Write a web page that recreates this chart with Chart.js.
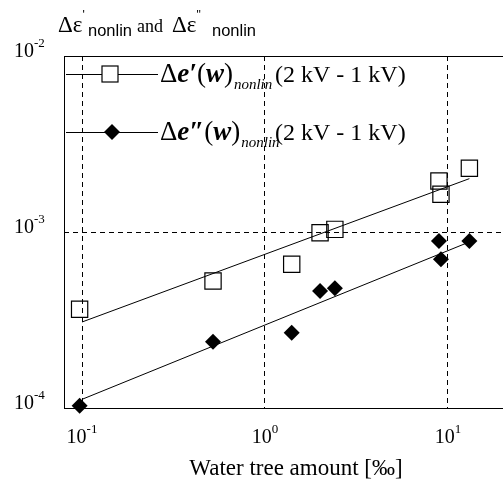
<!DOCTYPE html>
<html>
<head>
<meta charset="utf-8">
<script src="https://cdn.jsdelivr.net/npm/chart.js@4/dist/chart.umd.min.js"></script>
<style>
  body { margin: 0; background: #fff; }
  canvas { display: block; }
</style>
</head>
<body>
<canvas id="treeChart" width="503" height="484"></canvas>
<script>
// Water tree amount [‰] for each sample (same x for both series)
const waterTree = [0.097, 0.52, 1.40, 2.0, 2.41, 8.93, 9.16, 13.1];
// Δε'nonlin (open squares) and Δε"nonlin (filled diamonds)
const epsReal = [3.64e-4, 5.27e-4, 6.55e-4, 0.99e-3, 1.035e-3, 1.95e-3, 1.64e-3, 2.3e-3];
const epsImag = [1.03e-4, 2.38e-4, 2.68e-4, 4.62e-4, 4.79e-4, 8.89e-4, 7.0e-4, 8.9e-4];
// fitted power-law lines (end points)
const fitX = [0.1, 13.1];
const fitReal = [3.08e-4, 2.01e-3];
const fitImag = [1.12e-4, 8.78e-4];
// decade ticks
const xTicks = [0.1, 1, 10];
const xTickExp = ['-1', '0', '1'];
const yTicks = [1e-4, 1e-3, 1e-2];
const yTickExp = ['-4', '-3', '-2'];

const SERIF = '"Liberation Serif", "Times New Roman", serif';
const SANS = '"Liberation Sans", Arial, sans-serif';

function pts(xs, ys) {
    return xs.map((x, i) => ({ x: x, y: ys[i] }));
}

// draw a list of text runs one after another
function drawRuns(ctx, x, baseline, runs) {
    runs.forEach((r) => {
        ctx.font = r.font;
        if (r.x !== undefined) x = r.x;
        ctx.fillText(r.text, x, baseline + (r.dy || 0));
        x += ctx.measureText(r.text).width + (r.gap || 0);
    });
}

const decorPlugin = {
    id: 'decor',
    afterDraw(chart) {
        const ctx = chart.ctx;
        const area = chart.chartArea;
        const xs = chart.scales.x;
        const ys = chart.scales.y;
        ctx.save();
        ctx.fillStyle = '#000';
        ctx.strokeStyle = '#000';
        ctx.textBaseline = 'alphabetic';

        // frame: top, left, bottom
        ctx.lineWidth = 1;
        ctx.beginPath();
        ctx.moveTo(503, area.top + 0.5);
        ctx.lineTo(area.left + 0.5, area.top + 0.5);
        ctx.lineTo(area.left + 0.5, area.bottom + 0.5);
        ctx.lineTo(503, area.bottom + 0.5);
        ctx.stroke();

        // y tick labels
        yTicks.forEach((v, i) => {
            const y = ys.getPixelForValue(v);
            ctx.textAlign = 'left';
            ctx.font = '20px ' + SERIF;
            ctx.fillText('10', 14, y + 1);
            ctx.font = '13px ' + SERIF;
            ctx.fillText(yTickExp[i], 34, y - 9);
        });

        // x tick labels
        xTicks.forEach((v, i) => {
            const x = xs.getPixelForValue(v);
            ctx.font = '20px ' + SERIF;
            const w1 = ctx.measureText('10').width;
            ctx.font = '13px ' + SERIF;
            const w2 = ctx.measureText(xTickExp[i]).width;
            const x0 = x - (w1 + w2) / 2;
            ctx.textAlign = 'left';
            ctx.font = '20px ' + SERIF;
            ctx.fillText('10', x0, 443);
            ctx.font = '13px ' + SERIF;
            ctx.fillText(xTickExp[i], x0 + w1, 433);
        });

        // x axis title
        ctx.textAlign = 'center';
        ctx.font = '23px ' + SERIF;
        ctx.fillText('Water tree amount [‰]', 296, 475);

        // y axis title
        ctx.textAlign = 'left';
        drawRuns(ctx, 58, 32, [
            { text: 'Δε', font: '23px ' + SERIF },
            { text: "'", font: '12px ' + SANS, dy: -13 },
            { text: 'nonlin', font: '16.5px ' + SANS, dy: 4, x: 88 },
            { text: 'and', font: '18px ' + SERIF, x: 137 },
            { text: 'Δε', font: '23px ' + SERIF, x: 172 },
            { text: '"', font: '12px ' + SANS, dy: -13 },
            { text: 'nonlin', font: '16.5px ' + SANS, dy: 4, x: 212 },
        ]);

        // legend
        const rows = [
            { y: 74, prime: '′', style: 'square' },
            { y: 132, prime: '″', style: 'diamond' },
        ];
        rows.forEach((row) => {
            ctx.lineWidth = 1;
            ctx.beginPath();
            ctx.moveTo(66, row.y + 0.5);
            ctx.lineTo(158, row.y + 0.5);
            ctx.stroke();
            if (row.style === 'square') {
                ctx.fillStyle = '#fff';
                ctx.fillRect(102, row.y - 8, 16, 16);
                ctx.lineWidth = 1.2;
                ctx.strokeRect(102, row.y - 8, 16, 16);
                ctx.fillStyle = '#000';
            } else {
                ctx.beginPath();
                ctx.moveTo(112, row.y - 8);
                ctx.lineTo(120, row.y);
                ctx.lineTo(112, row.y + 8);
                ctx.lineTo(104, row.y);
                ctx.closePath();
                ctx.fill();
            }
            drawRuns(ctx, 160, row.y + 8, [
                { text: 'Δ', font: '27px ' + SERIF },
                { text: 'e' + row.prime, font: 'italic bold 27px ' + SERIF },
                { text: '(', font: '27px ' + SERIF },
                { text: 'w', font: 'italic bold 27px ' + SERIF },
                { text: ')', font: '27px ' + SERIF, gap: 1 },
                { text: 'nonlin', font: 'italic 15px ' + SERIF, dy: 7 },
                { text: '(2 kV - 1 kV)', font: '24px ' + SERIF, x: 275 },
            ]);
        });
        ctx.restore();
    },
};

const ctx = document.getElementById('treeChart').getContext('2d');
new Chart(ctx, {
    type: 'scatter',
    data: {
        datasets: [
            {
                data: pts(fitX, fitReal),
                showLine: true,
                borderColor: '#000',
                borderWidth: 1,
                pointRadius: 0,
            },
            {
                data: pts(fitX, fitImag),
                showLine: true,
                borderColor: '#000',
                borderWidth: 1,
                pointRadius: 0,
            },
            {
                data: pts(waterTree, epsReal),
                pointStyle: 'rect',
                pointRadius: 11.5,
                backgroundColor: 'rgba(0,0,0,0)',
                borderColor: '#000',
                borderWidth: 1.2,
                clip: false,
            },
            {
                data: pts(waterTree, epsImag),
                pointStyle: 'rectRot',
                pointRadius: 8,
                backgroundColor: '#000',
                borderColor: '#000',
                borderWidth: 0,
                clip: false,
            },
        ],
    },
    options: {
        responsive: false,
        animation: false,
        events: [],
        layout: { autoPadding: false, padding: { left: 64, top: 56, right: 0, bottom: 76 } },
        plugins: {
            legend: { display: false },
            tooltip: { enabled: false },
        },
        scales: {
            x: {
                type: 'logarithmic',
                min: 0.0797,
                max: 20,
                afterBuildTicks: (s) => { s.ticks = xTicks.map((v) => ({ value: v })); },
                afterFit: (s) => { s.height = 0; },
                ticks: { display: false },
                grid: { color: '#000', lineWidth: 1, drawTicks: false },
                border: { display: false, dash: [5, 4] },
            },
            y: {
                type: 'logarithmic',
                min: 1e-4,
                max: 1e-2,
                afterBuildTicks: (s) => { s.ticks = yTicks.map((v) => ({ value: v })); },
                afterFit: (s) => { s.width = 0; },
                ticks: { display: false },
                grid: { color: '#000', lineWidth: 1, drawTicks: false },
                border: { display: false, dash: [5, 4] },
            },
        },
    },
    plugins: [decorPlugin],
});
</script>
</body>
</html>
